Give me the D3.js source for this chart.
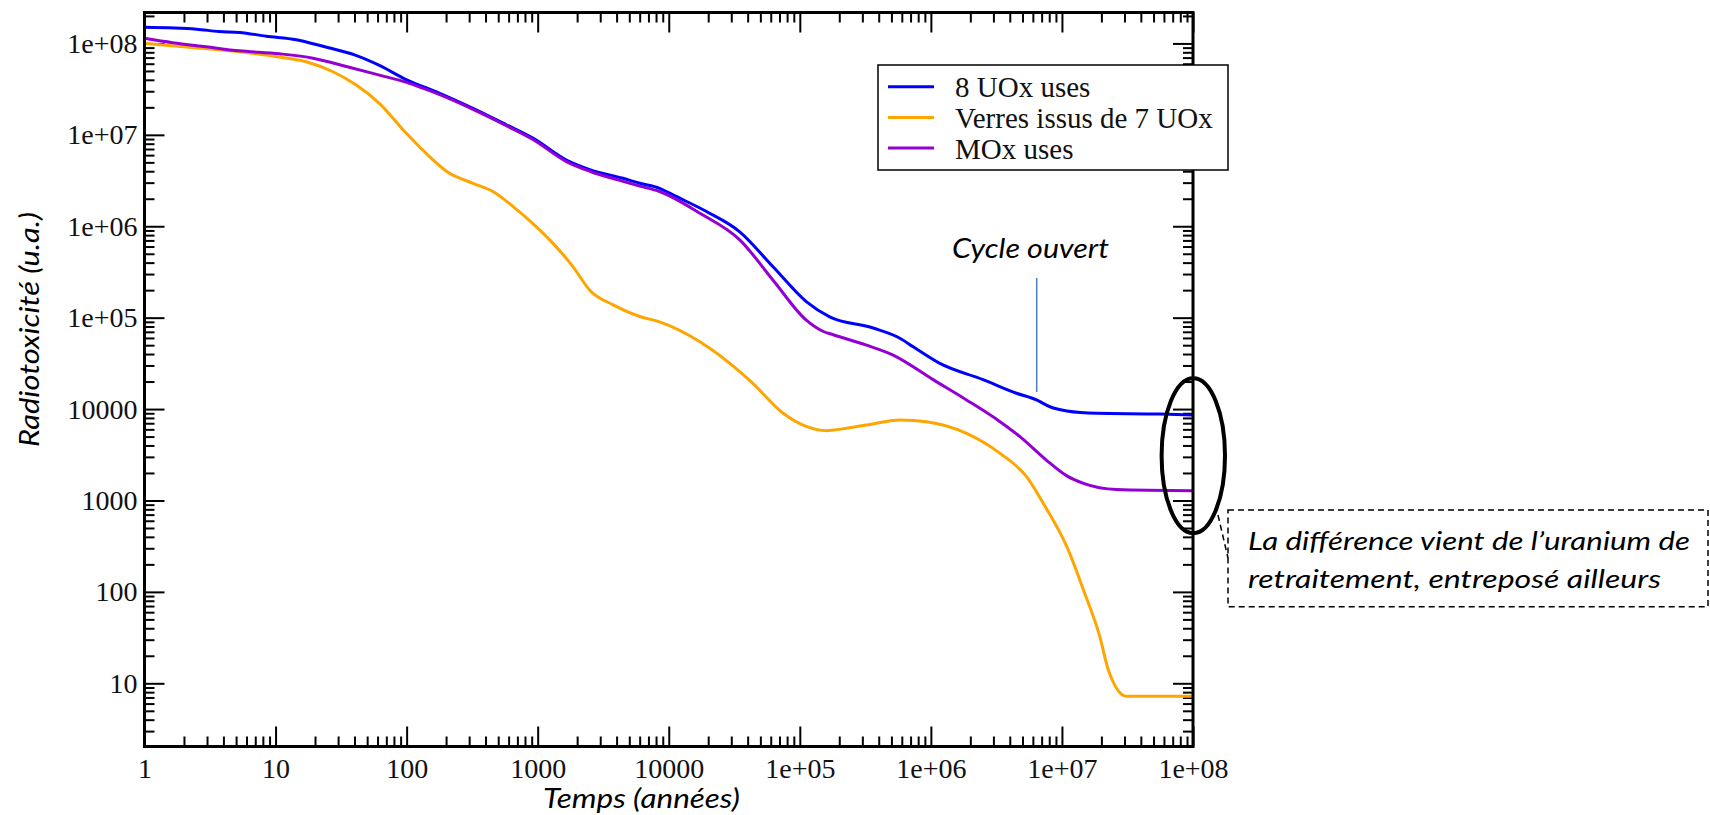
<!DOCTYPE html>
<html><head><meta charset="utf-8">
<script src="https://cdn.jsdelivr.net/npm/d3@7"></script>
<style>
html,body{margin:0;padding:0;background:#fff;overflow:hidden;}
svg{display:block;}
</style></head><body>
<svg id="chart" width="1710" height="815"></svg>
<script>
// ---- data ----
const xTickLabels = ["1","10","100","1000","10000","1e+05","1e+06","1e+07","1e+08"];
const yTickLabels = ["10","100","1000","10000","1e+05","1e+06","1e+07","1e+08"];
const seriesNames = ["8 UOx uses","Verres issus de 7 UOx","MOx uses"];
const seriesColors = ["#0000ff","#ffa500","#9400d3"];

const uoxYears  = [1, 2.5, 3.7, 5.3, 8.5, 14.4, 23, 41, 62, 100, 179, 321, 577, 920, 1656, 2495, 4477, 6012, 8511, 10790, 19400, 34800, 62500, 112000, 169000, 363000, 580000, 733000, 1.17e6, 2.5e6, 4.5e6, 6.4e6, 8.1e6, 1.09e7, 1.84e7, 5.6e7, 1e8];
const uoxValues = [1.5e8, 1.43e8, 1.35e8, 1.32e8, 1.2e8, 1.1e8, 9.3e7, 7.4e7, 5.75e7, 4.0e7, 2.85e7, 1.95e7, 1.29e7, 9.2e6, 5.3e6, 4.17e6, 3.35e6, 2.95e6, 2.6e6, 2.2e6, 1.45e6, 8.7e5, 3.6e5, 1.5e5, 1.02e5, 7.7e4, 5.96e4, 4.8e4, 3.16e4, 2.1e4, 1.49e4, 1.26e4, 1.06e4, 9550, 9000, 8830, 8610];

const verresYears  = [1, 2.2, 5.3, 10.7, 17.1, 27.4, 41.3, 62.2, 99.5, 150, 201, 321, 456, 649, 920, 1309, 1862, 2495, 3758, 6012, 8511, 17260, 34800, 44000, 74600, 112000, 160000, 180000, 323000, 580000, 927000, 1.87e6, 3.37e6, 5.37e6, 7.2e6, 1.09e7, 1.46e7, 1.95e7, 2.26e7, 3.12e7, 1e8];
const verresValues = [1.0e8, 9.1e7, 8.1e7, 7.1e7, 6.3e7, 4.9e7, 3.5e7, 2.2e7, 1.04e7, 5.75e6, 4.0e6, 2.95e6, 2.4e6, 1.64e6, 1.07e6, 6.5e5, 3.6e5, 2.0e5, 1.38e5, 1.03e5, 9.0e4, 5.46e4, 2.57e4, 1.9e4, 9000, 6460, 5800, 5890, 6700, 7590, 7280, 5430, 3280, 1820, 933, 313, 105, 32, 14, 7.2, 7.2];

const moxYears  = [1, 1.64, 2.95, 5.3, 10.7, 19.3, 34.7, 62, 100, 133, 179, 321, 577, 920, 1656, 2495, 4477, 6012, 8511, 17260, 34800, 62500, 112000, 150000, 180000, 323000, 515000, 1.04e6, 1.87e6, 3.37e6, 4.78e6, 7.6e6, 1.09e7, 1.46e7, 2.6e7, 1e8];
const moxValues = [1.14e8, 1.02e8, 9.2e7, 8.3e7, 7.7e7, 6.9e7, 5.6e7, 4.5e7, 3.75e7, 3.24e7, 2.75e7, 1.9e7, 1.26e7, 8.9e6, 5.1e6, 4.0e6, 3.1e6, 2.75e6, 2.4e6, 1.39e6, 7.1e5, 2.57e5, 9.4e4, 7.1e4, 6.5e4, 5.0e4, 3.9e4, 2.1e4, 1.26e4, 7280, 5000, 2770, 1860, 1540, 1320, 1280];

const xDomain = [1, 1e8];
const yDomain = [2.035, 2.18e8];

// ---- layout ----
const W = 1710, H = 815;
const L = 144.5, R = 1193, T = 12.5, B = 746.5;
const svg = d3.select("#chart");
svg.append("rect").attr("width", W).attr("height", H).attr("fill", "#fff");

const x = d3.scaleLog().domain(xDomain).range([L, R]);
const y = d3.scaleLog().domain(yDomain).range([B, T]);

const xMajor = xTickLabels.map((_, i) => Math.pow(10, i));
const yMajor = yTickLabels.map((_, i) => Math.pow(10, i + 1));
const xMinor = [], yMinor = [];
for (let d = 0; d < 8; d++) for (let m = 2; m <= 9; m++) xMinor.push(m * Math.pow(10, d));
for (let d = 0; d < 9; d++) for (let m = 2; m <= 9; m++) {
  const v = m * Math.pow(10, d);
  if (v > yDomain[0] && v < yDomain[1]) yMinor.push(v);
}

const tickFont = "'Liberation Serif', 'Times New Roman', serif";
const italicFont = "Lato, 'Open Sans', sans-serif";

function styleAxis(g) {
  g.select(".domain").remove();
  g.selectAll(".tick line").attr("stroke", "#000").attr("stroke-width", 2);
  g.selectAll("text").attr("fill", "#111").attr("font-family", tickFont).attr("font-size", 28);
}

// bottom
svg.append("g").attr("transform", `translate(0,${B})`)
  .call(d3.axisBottom(x).tickValues(xMajor).tickFormat((d, i) => xTickLabels[i]).tickSizeInner(-20).tickSizeOuter(0).tickPadding(12))
  .call(styleAxis);
svg.append("g").attr("transform", `translate(0,${B})`)
  .call(d3.axisBottom(x).tickValues(xMinor).tickFormat("").tickSizeInner(-10).tickSizeOuter(0))
  .call(styleAxis);
// top
svg.append("g").attr("transform", `translate(0,${T})`)
  .call(d3.axisTop(x).tickValues(xMajor).tickFormat("").tickSizeInner(-20).tickSizeOuter(0))
  .call(styleAxis);
svg.append("g").attr("transform", `translate(0,${T})`)
  .call(d3.axisTop(x).tickValues(xMinor).tickFormat("").tickSizeInner(-10).tickSizeOuter(0))
  .call(styleAxis);
// left
svg.append("g").attr("transform", `translate(${L},0)`)
  .call(d3.axisLeft(y).tickValues(yMajor).tickFormat((d, i) => yTickLabels[i]).tickSizeInner(-20).tickSizeOuter(0).tickPadding(7))
  .call(styleAxis);
svg.append("g").attr("transform", `translate(${L},0)`)
  .call(d3.axisLeft(y).tickValues(yMinor).tickFormat("").tickSizeInner(-10).tickSizeOuter(0))
  .call(styleAxis);
// right
svg.append("g").attr("transform", `translate(${R},0)`)
  .call(d3.axisRight(y).tickValues(yMajor).tickFormat("").tickSizeInner(-20).tickSizeOuter(0))
  .call(styleAxis);
svg.append("g").attr("transform", `translate(${R},0)`)
  .call(d3.axisRight(y).tickValues(yMinor).tickFormat("").tickSizeInner(-10).tickSizeOuter(0))
  .call(styleAxis);

// curves
svg.append("defs").append("clipPath").attr("id", "plotClip")
  .append("rect").attr("x", L).attr("y", T).attr("width", R - L).attr("height", B - T);

const series = [
  {years: uoxYears, values: uoxValues, color: seriesColors[0]},
  {years: verresYears, values: verresValues, color: seriesColors[1]},
  {years: moxYears, values: moxValues, color: seriesColors[2]}
];
const line = d3.line().x(d => x(d[0])).y(d => y(d[1])).curve(d3.curveMonotoneX);
const curves = svg.append("g").attr("clip-path", "url(#plotClip)");
series.forEach(s => {
  curves.append("path")
    .attr("d", line(s.years.map((t, i) => [t, s.values[i]])))
    .attr("fill", "none").attr("stroke", s.color).attr("stroke-width", 3)
    .attr("stroke-linejoin", "round");
});

// frame
svg.append("rect").attr("x", L).attr("y", T).attr("width", R - L).attr("height", B - T)
  .attr("fill", "none").attr("stroke", "#000").attr("stroke-width", 3);

// legend
const lg = svg.append("g");
lg.append("rect").attr("x", 878).attr("y", 65).attr("width", 350).attr("height", 105)
  .attr("fill", "#fff").attr("stroke", "#000").attr("stroke-width", 1.5);
seriesNames.forEach((name, i) => {
  const ly = 86.7 + i * 30.7;
  lg.append("line").attr("x1", 888).attr("x2", 934).attr("y1", ly).attr("y2", ly)
    .attr("stroke", seriesColors[i]).attr("stroke-width", 3);
  lg.append("text").attr("x", 955).attr("y", ly + 10.5).text(name)
    .attr("font-family", tickFont).attr("font-size", 29).attr("fill", "#111");
});

// axis titles
svg.append("text").attr("x", 641.5).attr("y", 808).attr("text-anchor", "middle")
  .attr("font-family", italicFont).attr("font-style", "italic").attr("font-size", 27)
  .attr("textLength", 197).attr("lengthAdjust", "spacingAndGlyphs")
  .text("Temps (années)");
svg.append("text").attr("transform", "translate(39,329.5) rotate(-90)").attr("text-anchor", "middle")
  .attr("font-family", italicFont).attr("font-style", "italic").attr("font-size", 27)
  .attr("textLength", 235).attr("lengthAdjust", "spacingAndGlyphs")
  .text("Radiotoxicité (u.a.)");

// annotation: cycle ouvert
svg.append("text").attr("x", 952).attr("y", 258)
  .attr("font-family", italicFont).attr("font-style", "italic").attr("font-size", 27)
  .attr("textLength", 157).attr("lengthAdjust", "spacingAndGlyphs")
  .text("Cycle ouvert");
svg.append("line").attr("x1", 1036.7).attr("x2", 1036.7).attr("y1", 278).attr("y2", 392)
  .attr("stroke", "#4a7ebb").attr("stroke-width", 1.5);

// ellipse + callout
svg.append("ellipse").attr("cx", 1193.3).attr("cy", 455.7).attr("rx", 31.7).attr("ry", 77.5)
  .attr("fill", "none").attr("stroke", "#000").attr("stroke-width", 4);
svg.append("line").attr("x1", 1218).attr("y1", 515).attr("x2", 1228).attr("y2", 558)
  .attr("stroke", "#000").attr("stroke-width", 1.5).attr("stroke-dasharray", "6,4");
svg.append("rect").attr("x", 1228).attr("y", 510).attr("width", 480).attr("height", 96.7)
  .attr("fill", "none").attr("stroke", "#000").attr("stroke-width", 1.5).attr("stroke-dasharray", "6,4");
svg.append("text").attr("x", 1248).attr("y", 550)
  .attr("font-family", italicFont).attr("font-style", "italic").attr("font-size", 26)
  .attr("textLength", 442).attr("lengthAdjust", "spacingAndGlyphs")
  .text("La différence vient de l’uranium de");
svg.append("text").attr("x", 1248).attr("y", 588)
  .attr("font-family", italicFont).attr("font-style", "italic").attr("font-size", 26)
  .attr("textLength", 413).attr("lengthAdjust", "spacingAndGlyphs")
  .text("retraitement, entreposé ailleurs");
</script>
</body></html>
